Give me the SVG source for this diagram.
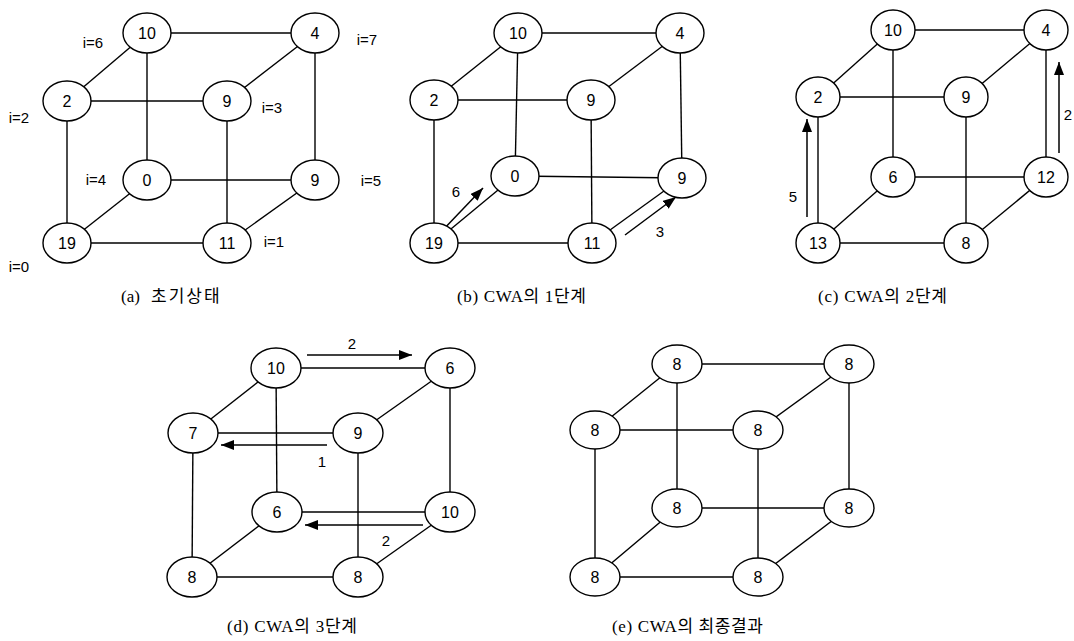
<svg xmlns="http://www.w3.org/2000/svg" width="1074" height="641" viewBox="0 0 1074 641">
<defs>
<style>
.e{stroke:#000;stroke-width:1.4;fill:none}
.n ellipse{fill:#fff;stroke:#000;stroke-width:1.4}
.n text{font-family:"Liberation Sans",Arial,sans-serif;font-size:16px;text-anchor:middle;fill:#000}
.lb{font-family:"Liberation Sans",Arial,sans-serif;font-size:15px;text-anchor:middle;fill:#000}
.cap{font-family:"Liberation Serif","Noto Sans CJK KR",serif;font-size:17px;fill:#000}
.ar{stroke:#000;stroke-width:1.5;fill:none;marker-end:url(#ah)}
</style>
<marker id="ah" markerUnits="userSpaceOnUse" markerWidth="14" markerHeight="11" refX="13" refY="5" orient="auto">
<path d="M0,0 L13,5 L0,10 z" fill="#000"/>
</marker>
</defs>
<rect width="1074" height="641" fill="#fff"/>

<!-- connectors -->
<g id="connectors">
<g id="edges-a" class="e">
<line x1="147" y1="33" x2="315" y2="33"/><line x1="147" y1="33" x2="67" y2="101"/><line x1="315" y1="33" x2="227" y2="101"/><line x1="67" y1="101" x2="227" y2="101"/>
<line x1="147" y1="180" x2="315" y2="180"/><line x1="147" y1="180" x2="67" y2="243"/><line x1="315" y1="180" x2="227" y2="243"/><line x1="67" y1="243" x2="227" y2="243"/>
<line x1="147" y1="33" x2="147" y2="180"/><line x1="315" y1="33" x2="315" y2="180"/><line x1="67" y1="101" x2="67" y2="243"/><line x1="227" y1="101" x2="227" y2="243"/>
</g>
<g id="edges-b" class="e">
<line x1="518" y1="33" x2="680" y2="33"/><line x1="518" y1="33" x2="434" y2="100"/><line x1="680" y1="33" x2="591" y2="100"/><line x1="434" y1="100" x2="591" y2="100"/>
<line x1="515" y1="176" x2="682" y2="178"/><line x1="515" y1="176" x2="434" y2="243"/><line x1="682" y1="178" x2="592" y2="243"/><line x1="434" y1="243" x2="592" y2="243"/>
<line x1="518" y1="33" x2="515" y2="176"/><line x1="680" y1="33" x2="682" y2="178"/><line x1="434" y1="100" x2="434" y2="243"/><line x1="591" y1="100" x2="592" y2="243"/>
</g>
<g id="edges-c" class="e">
<line x1="893" y1="30" x2="1046" y2="30"/><line x1="893" y1="30" x2="818" y2="97"/><line x1="1046" y1="30" x2="966" y2="97"/><line x1="818" y1="97" x2="966" y2="97"/>
<line x1="893" y1="177" x2="1046" y2="177"/><line x1="893" y1="177" x2="818" y2="243"/><line x1="1046" y1="177" x2="966" y2="243"/><line x1="818" y1="243" x2="966" y2="243"/>
<line x1="893" y1="30" x2="893" y2="177"/><line x1="1046" y1="30" x2="1046" y2="177"/><line x1="818" y1="97" x2="818" y2="243"/><line x1="966" y1="97" x2="966" y2="243"/>
</g>
<g id="edges-d" class="e">
<line x1="276" y1="368" x2="450" y2="368"/><line x1="276" y1="368" x2="193" y2="433"/><line x1="450" y1="368" x2="358" y2="433"/><line x1="193" y1="433" x2="358" y2="433"/>
<line x1="277" y1="512" x2="450" y2="512"/><line x1="277" y1="512" x2="192" y2="577"/><line x1="450" y1="512" x2="358" y2="577"/><line x1="192" y1="577" x2="358" y2="577"/>
<line x1="276" y1="368" x2="277" y2="512"/><line x1="450" y1="368" x2="450" y2="512"/><line x1="193" y1="433" x2="192" y2="577"/><line x1="358" y1="433" x2="358" y2="577"/>
</g>
<g id="edges-e" class="e">
<line x1="677" y1="364" x2="849" y2="364"/><line x1="677" y1="364" x2="595" y2="430"/><line x1="849" y1="364" x2="758" y2="430"/><line x1="595" y1="430" x2="758" y2="430"/>
<line x1="677" y1="508" x2="849" y2="508"/><line x1="677" y1="508" x2="595" y2="577"/><line x1="849" y1="508" x2="758" y2="577"/><line x1="595" y1="577" x2="758" y2="577"/>
<line x1="677" y1="364" x2="677" y2="508"/><line x1="849" y1="364" x2="849" y2="508"/><line x1="595" y1="430" x2="595" y2="577"/><line x1="758" y1="430" x2="758" y2="577"/>
</g>
<g id="arrows">
<line class="ar" x1="440" y1="233" x2="483" y2="188"/>
<line class="ar" x1="625" y1="235" x2="676" y2="197"/>
<line class="ar" x1="807" y1="217" x2="807" y2="119"/>
<line class="ar" x1="1059" y1="153" x2="1059" y2="62"/>
<line class="ar" x1="307" y1="355" x2="412" y2="355"/>
<line class="ar" x1="327" y1="445" x2="221" y2="445"/>
<line class="ar" x1="423" y1="525" x2="305" y2="525"/>
</g>
</g>

<!-- nodes (a) -->
<g id="a-n6" class="n"><ellipse cx="147" cy="33" rx="24" ry="20"/><text x="147" y="39">10</text></g>
<g id="a-n7" class="n"><ellipse cx="315" cy="33" rx="24" ry="20"/><text x="315" y="39">4</text></g>
<g id="a-n2" class="n"><ellipse cx="67" cy="101" rx="24" ry="20"/><text x="67" y="107">2</text></g>
<g id="a-n3" class="n"><ellipse cx="227" cy="101" rx="24" ry="20"/><text x="227" y="107">9</text></g>
<g id="a-n4" class="n"><ellipse cx="147" cy="180" rx="24" ry="20"/><text x="147" y="186">0</text></g>
<g id="a-n5" class="n"><ellipse cx="315" cy="180" rx="24" ry="20"/><text x="315" y="186">9</text></g>
<g id="a-n0" class="n"><ellipse cx="67" cy="243" rx="24" ry="20"/><text x="67" y="249">19</text></g>
<g id="a-n1" class="n"><ellipse cx="227" cy="243" rx="24" ry="20"/><text x="227" y="249">11</text></g>
<g id="a-labels">
<text class="lb" x="93" y="48">i=6</text>
<text class="lb" x="367" y="45">i=7</text>
<text class="lb" x="19" y="123">i=2</text>
<text class="lb" x="272" y="113">i=3</text>
<text class="lb" x="96" y="185">i=4</text>
<text class="lb" x="371" y="186">i=5</text>
<text class="lb" x="274" y="247">i=1</text>
<text class="lb" x="19" y="272">i=0</text>
</g>

<!-- nodes (b) -->
<g id="b-n6" class="n"><ellipse cx="518" cy="33" rx="24" ry="20"/><text x="518" y="39">10</text></g>
<g id="b-n7" class="n"><ellipse cx="680" cy="33" rx="24" ry="20"/><text x="680" y="39">4</text></g>
<g id="b-n2" class="n"><ellipse cx="434" cy="100" rx="24" ry="20"/><text x="434" y="106">2</text></g>
<g id="b-n3" class="n"><ellipse cx="591" cy="100" rx="24" ry="20"/><text x="591" y="106">9</text></g>
<g id="b-n4" class="n"><ellipse cx="515" cy="176" rx="24" ry="20"/><text x="515" y="182">0</text></g>
<g id="b-n5" class="n"><ellipse cx="682" cy="178" rx="24" ry="20"/><text x="682" y="184">9</text></g>
<g id="b-n0" class="n"><ellipse cx="434" cy="243" rx="24" ry="20"/><text x="434" y="249">19</text></g>
<g id="b-n1" class="n"><ellipse cx="592" cy="243" rx="24" ry="20"/><text x="592" y="249">11</text></g>
<text class="lb" x="456" y="197">6</text>
<text class="lb" x="660" y="237">3</text>

<!-- nodes (c) -->
<g id="c-n6" class="n"><ellipse cx="893" cy="30" rx="22" ry="20"/><text x="893" y="36">10</text></g>
<g id="c-n7" class="n"><ellipse cx="1046" cy="30" rx="22" ry="20"/><text x="1046" y="36">4</text></g>
<g id="c-n2" class="n"><ellipse cx="818" cy="97" rx="22" ry="20"/><text x="818" y="103">2</text></g>
<g id="c-n3" class="n"><ellipse cx="966" cy="97" rx="22" ry="20"/><text x="966" y="103">9</text></g>
<g id="c-n4" class="n"><ellipse cx="893" cy="177" rx="22" ry="20"/><text x="893" y="183">6</text></g>
<g id="c-n5" class="n"><ellipse cx="1046" cy="177" rx="22" ry="20"/><text x="1046" y="183">12</text></g>
<g id="c-n0" class="n"><ellipse cx="818" cy="243" rx="22" ry="20"/><text x="818" y="249">13</text></g>
<g id="c-n1" class="n"><ellipse cx="966" cy="243" rx="22" ry="20"/><text x="966" y="249">8</text></g>
<text class="lb" x="793" y="202">5</text>
<text class="lb" x="1068" y="120">2</text>

<!-- nodes (d) -->
<g id="d-n6" class="n"><ellipse cx="276" cy="368" rx="25" ry="20"/><text x="276" y="374">10</text></g>
<g id="d-n7" class="n"><ellipse cx="450" cy="368" rx="25" ry="20"/><text x="450" y="374">6</text></g>
<g id="d-n2" class="n"><ellipse cx="193" cy="433" rx="25" ry="20"/><text x="193" y="439">7</text></g>
<g id="d-n3" class="n"><ellipse cx="358" cy="433" rx="25" ry="20"/><text x="358" y="439">9</text></g>
<g id="d-n4" class="n"><ellipse cx="277" cy="512" rx="25" ry="20"/><text x="277" y="518">6</text></g>
<g id="d-n5" class="n"><ellipse cx="450" cy="512" rx="25" ry="20"/><text x="450" y="518">10</text></g>
<g id="d-n0" class="n"><ellipse cx="192" cy="577" rx="25" ry="20"/><text x="192" y="583">8</text></g>
<g id="d-n1" class="n"><ellipse cx="358" cy="577" rx="25" ry="20"/><text x="358" y="583">8</text></g>
<text class="lb" x="352" y="349">2</text>
<text class="lb" x="322" y="467">1</text>
<text class="lb" x="386" y="546">2</text>

<!-- nodes (e) -->
<g id="e-n6" class="n"><ellipse cx="677" cy="364" rx="25" ry="19"/><text x="677" y="370">8</text></g>
<g id="e-n7" class="n"><ellipse cx="849" cy="364" rx="25" ry="19"/><text x="849" y="370">8</text></g>
<g id="e-n2" class="n"><ellipse cx="595" cy="430" rx="25" ry="19"/><text x="595" y="436">8</text></g>
<g id="e-n3" class="n"><ellipse cx="758" cy="430" rx="25" ry="19"/><text x="758" y="436">8</text></g>
<g id="e-n4" class="n"><ellipse cx="677" cy="508" rx="25" ry="19"/><text x="677" y="514">8</text></g>
<g id="e-n5" class="n"><ellipse cx="849" cy="508" rx="25" ry="19"/><text x="849" y="514">8</text></g>
<g id="e-n0" class="n"><ellipse cx="595" cy="577" rx="25" ry="19"/><text x="595" y="583">8</text></g>
<g id="e-n1" class="n"><ellipse cx="758" cy="577" rx="25" ry="19"/><text x="758" y="583">8</text></g>

<!-- captions -->
<g id="captions">
<text class="cap" x="121" y="302">(a) <tspan x="151" letter-spacing="2">초기상태</tspan></text>
<text class="cap" x="457" y="302" textLength="129" lengthAdjust="spacing">(b) CWA의 1단계</text>
<text class="cap" x="818" y="302" textLength="129" lengthAdjust="spacing">(c) CWA의 2단계</text>
<text class="cap" x="227" y="632" textLength="130" lengthAdjust="spacing">(d) CWA의 3단계</text>
<text class="cap" x="612" y="632" textLength="151" lengthAdjust="spacing">(e) CWA의 최종결과</text>
</g>
</svg>
